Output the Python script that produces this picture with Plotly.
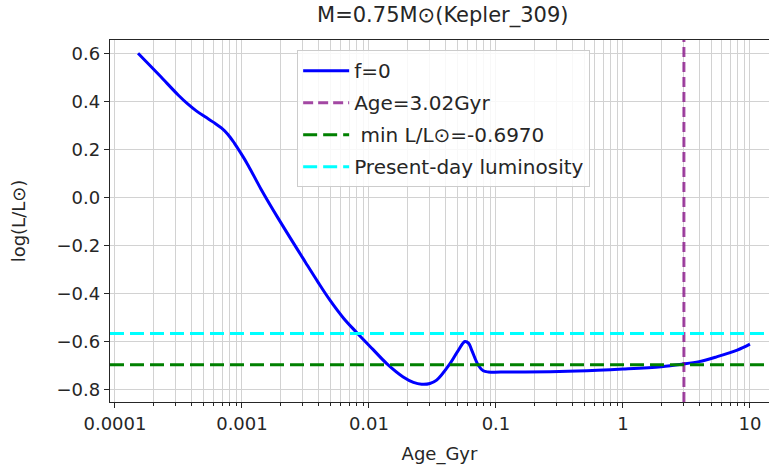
import plotly.graph_objects as go

# Evolutionary track for a 0.75 Msun star (Kepler-309)
age_gyr = [0.000152, 0.000224, 0.000316, 0.000372, 0.000437, 0.000513, 0.000603,
           0.000692, 0.000776, 0.000871, 0.000977, 0.00112, 0.00141, 0.00193,
           0.00316, 0.00398, 0.00493, 0.00631, 0.00800, 0.0107,
           0.0138, 0.0186, 0.0224, 0.0260, 0.0302, 0.0341, 0.0435, 0.0501, 0.0570,
           0.0610, 0.0644, 0.0726, 0.0794, 0.0871, 0.126, 0.316, 0.631, 1.0, 2.0,
           2.90, 3.98, 5.47, 7.94, 10.0]
log_lum = [0.600, 0.508, 0.425, 0.390, 0.360, 0.335, 0.311,
           0.288, 0.262, 0.226, 0.185, 0.133, 0.035, -0.0875,
           -0.270, -0.354, -0.428, -0.503, -0.5625, -0.632,
           -0.692, -0.7475, -0.770, -0.778, -0.775, -0.761, -0.692, -0.640, -0.600,
           -0.608, -0.636, -0.699, -0.722, -0.727, -0.727, -0.725, -0.720, -0.715, -0.705,
           -0.695, -0.684, -0.664, -0.636, -0.611]

star_age = 3.02          # Gyr
min_lum = -0.6970        # log L/Lsun
present_lum = -0.567     # log L/Lsun

x_ticks = [0.0001, 0.001, 0.01, 0.1, 1, 10]
x_tick_text = ["0.0001", "0.001", "0.01", "0.1", "1", "10"]
y_ticks = [-0.8, -0.6, -0.4, -0.2, 0.0, 0.2, 0.4, 0.6]

x_lim_log = [-4.039, 1.150]
y_lim = [-0.852, 0.655]
x_lim = [10 ** x_lim_log[0], 10 ** x_lim_log[1]]

minor_vals = [m * 10.0 ** e for e in range(-5, 2) for m in range(2, 10)]

FONT = "DejaVu Sans"
INK = "#262626"
GRID = "#d2d2d2"

fig = go.Figure()
fig.add_trace(go.Scatter(x=age_gyr, y=log_lum, mode="lines", name="f=0",
                         line=dict(color="#0000ff", width=3, shape="spline", smoothing=1.0),
                         legendgroup="a"))
fig.add_trace(go.Scatter(x=[star_age, star_age], y=y_lim, mode="lines",
                         name="Age=3.02Gyr", legendgroup="b",
                         line=dict(color="rgba(128,0,128,0.72)", width=3, dash="10px,5px")))
fig.add_trace(go.Scatter(x=x_lim, y=[min_lum, min_lum], mode="lines",
                         name=" min L/L\u2299=-0.6970", legendgroup="c",
                         line=dict(color="#008000", width=3, dash="14px,6px")))
fig.add_trace(go.Scatter(x=x_lim, y=[present_lum, present_lum], mode="lines",
                         name="Present-day luminosity", legendgroup="d",
                         line=dict(color="#00ffff", width=3, dash="14px,6px")))

fig.update_layout(
    width=769, height=468,
    margin=dict(l=110, r=0, t=40, b=66),
    paper_bgcolor="white", plot_bgcolor="white",
    font=dict(family=FONT, size=18, color=INK),
    title=dict(text="M=0.75M\u2299(Kepler_309)", x=0.505, xref="paper", xanchor="center",
               y=1 - 15 / 468, yref="container", yanchor="middle",
               font=dict(family=FONT, size=21, color=INK)),
    legend=dict(x=0.284, y=0.972, xanchor="left", yanchor="top",
                bgcolor="rgba(255,255,255,0.85)", bordercolor="#cccccc", borderwidth=1,
                font=dict(family=FONT, size=20, color=INK),
                tracegroupgap=3, itemwidth=46),
    showlegend=True,
)

fig.update_xaxes(
    type="log", range=x_lim_log,
    tickmode="array", tickvals=x_ticks, ticktext=x_tick_text,
    tickfont=dict(size=18),
    ticks="outside", ticklen=5, tickwidth=1.2, tickcolor=INK,
    showline=True, linecolor=INK, linewidth=1.3, mirror=True,
    showgrid=True, gridcolor=GRID, gridwidth=1,
    minor=dict(tickmode="array", tickvals=minor_vals, ticks="outside", ticklen=3,
               tickcolor=INK, tickwidth=1, showgrid=True, gridcolor=GRID, gridwidth=1),
    zeroline=False,
    title=dict(text="Age_Gyr", standoff=14, font=dict(family=FONT, size=18)),
)
fig.update_yaxes(
    range=y_lim, tickmode="array", tickvals=y_ticks, tickformat=".1f",
    tickfont=dict(size=18),
    ticks="outside", ticklen=5, tickwidth=1.2, tickcolor=INK,
    showline=True, linecolor=INK, linewidth=1.3, mirror=False,
    showgrid=True, gridcolor=GRID, gridwidth=1, zeroline=False,
    title=dict(text="log(L/L\u2299)", standoff=26, font=dict(family=FONT, size=18)),
)

fig.write_html("out.html")
